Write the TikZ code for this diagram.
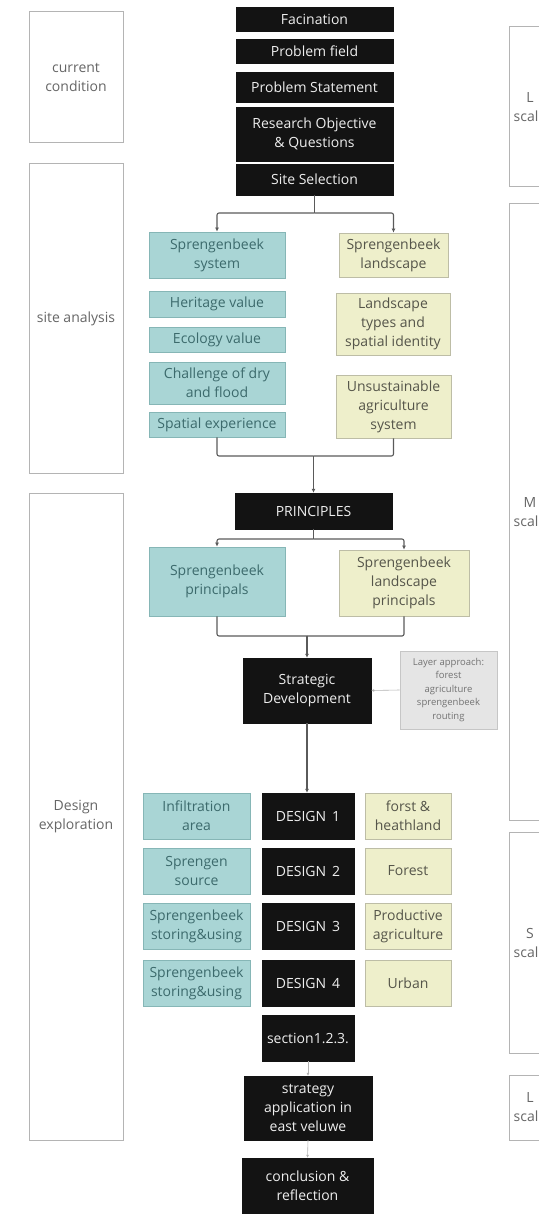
\documentclass[tikz,border=0pt]{standalone}
\usepackage{fontspec}
\setmainfont{Open Sans}
\usetikzlibrary{arrows.meta}
\definecolor{tealfill}{HTML}{A9D5D5}
\definecolor{tealline}{HTML}{86B6B6}
\definecolor{tealtext}{HTML}{3C6A6C}
\definecolor{yelfill}{HTML}{EEEFCB}
\definecolor{yelline}{HTML}{BDBDA6}
\definecolor{yeltext}{HTML}{55554A}
\definecolor{blk}{HTML}{131313}
\definecolor{blktext}{HTML}{EEEEEE}
\definecolor{side}{HTML}{B4B4B4}
\definecolor{sidetext}{HTML}{666666}
\definecolor{conn}{HTML}{5A5A5A}
\tikzset{
  base/.style={inner sep=0pt, align=center, font=\fontsize{14}{19}\selectfont},
  blackbox/.style={base, fill=blk, draw=blk, text=blktext},
  tealbox/.style={base, fill=tealfill, draw=tealline, line width=0.8pt, text=tealtext},
  yelbox/.style={base, fill=yelfill, draw=yelline, line width=0.8pt, text=yeltext},
  sidebox/.style={base, draw=side, line width=1pt, fill=white, text=sidetext},
  graybox/.style={base, fill=gray!20, draw=gray!45, line width=0.8pt, text=gray!90!black,
     font=\fontsize{9.5}{13.5}\selectfont},
  wire/.style={draw=conn, line width=1.1pt, rounded corners=2pt},
  arr/.style={wire, -{Latex[length=4pt,width=4pt]}},
  thinarr/.style={draw=gray!60, line width=0.6pt, -{Latex[length=3pt,width=3pt]}},
}
\newcommand{\bx}[7]{% style, name, cx, cy, w, h, text
  \node[#1, minimum width=#5pt, minimum height=#6pt] (#2) at (#3,#4) {#7};}
\begin{document}
\begin{tikzpicture}[x=1pt,y=-1pt]
\useasboundingbox (0,0) rectangle (538,1214);
% left phase boxes
\bx{sidebox}{cur}{76}{77.5}{94}{131}{current\\condition}
\bx{sidebox}{sa}{76}{318.5}{94}{309}{site analysis}
\bx{sidebox}{de}{76}{816.5}{94}{647}{Design\\exploration}
% right scale boxes
\bx{sidebox}{rl1}{530}{107}{42}{160}{L\\scale}
\bx{sidebox}{rm}{530}{512}{42}{616}{M\\scale}
\bx{sidebox}{rs}{530}{942.5}{42}{221}{S\\scale}
\bx{sidebox}{rl2}{530}{1107.5}{42}{65}{L\\scale}
% top black stack
\bx{blackbox}{fac}{314.5}{19}{157}{24}{Facination}
\bx{blackbox}{pf}{314.5}{51}{157}{24}{Problem field}
\bx{blackbox}{ps}{314.5}{87}{157}{30}{Problem Statement}
\bx{blackbox}{ro}{314.5}{134}{157}{54}{Research Objective\\\& Questions}
\bx{blackbox}{ss}{314.5}{179.5}{157}{31}{Site Selection}
% site analysis
\bx{tealbox}{sys}{217}{255}{136}{46}{Sprengenbeek\\system}
\bx{tealbox}{her}{217}{304}{136}{26}{Heritage value}
\bx{tealbox}{eco}{217}{339.5}{136}{25}{Ecology value}
\bx{tealbox}{chal}{217}{383}{136}{42}{Challenge of dry\\and flood}
\bx{tealbox}{spat}{217}{424.5}{136}{25}{Spatial experience}
\bx{yelbox}{land}{393.5}{255}{109}{44}{Sprengenbeek\\landscape}
\bx{yelbox}{types}{393}{324}{114}{62}{Landscape\\types and\\spatial identity}
\bx{yelbox}{unsus}{393.5}{406.5}{115}{63}{Unsustainable\\agriculture\\system}
% principles
\bx{blackbox}{prin}{313.5}{511}{157}{36}{PRINCIPLES}
\bx{tealbox}{tp}{217}{581.5}{136}{69}{Sprengenbeek\\principals}
\bx{yelbox}{yp}{404}{583}{130}{66}{Sprengenbeek\\landscape\\principals}
\bx{blackbox}{strat}{307}{690.5}{128}{65}{Strategic\\Development}
\bx{graybox}{layer}{448.5}{690}{97}{78}{Layer approach:\\forest\\agriculture\\sprengenbeek\\routing}
% designs
\bx{tealbox}{t1}{196.5}{816}{107}{46}{Infiltration\\area}
\bx{tealbox}{t2}{196.5}{871}{107}{46}{Sprengen\\source}
\bx{tealbox}{t3}{196.5}{926}{107}{46}{Sprengenbeek\\storing\&using}
\bx{tealbox}{t4}{196.5}{983}{107}{46}{Sprengenbeek\\storing\&using}
\bx{blackbox}{d1}{308}{816}{92}{46}{DESIGN\, 1}
\bx{blackbox}{d2}{308}{871}{92}{46}{DESIGN\, 2}
\bx{blackbox}{d3}{308}{926}{92}{46}{DESIGN\, 3}
\bx{blackbox}{d4}{308}{983}{92}{46}{DESIGN\, 4}
\bx{yelbox}{y1}{408}{816}{86}{46}{forst \&\\heathland}
\bx{yelbox}{y2}{408}{871}{86}{46}{Forest}
\bx{yelbox}{y3}{408}{926}{86}{46}{Productive\\agriculture}
\bx{yelbox}{y4}{408}{983}{86}{46}{Urban}
\bx{blackbox}{sec}{308}{1038}{92}{46}{section1.2.3.}
\bx{blackbox}{sapp}{308}{1108}{128}{64}{strategy\\application in\\east veluwe}
\bx{blackbox}{conc}{307.5}{1186}{131}{56}{conclusion \&\\reflection}
% junctions
\coordinate (j0) at (314.5,213);
\coordinate (j1) at (313.5,456);
\coordinate (j2) at (313.5,539);
\coordinate (j3) at (307,636);
% connectors
\draw[wire] (ss.south) -- (j0);
\draw[arr] (j0) -| (sys.north);
\draw[arr] (j0) -| (land.north);
\draw[wire] (spat.south) |- (j1);
\draw[wire] (unsus.south) |- (j1);
\draw[arr] (j1) -- (prin.north);
\draw[wire] (prin.south) -- (j2);
\draw[arr] (j2) -| (tp.north);
\draw[arr] (j2) -| (yp.north);
\draw[wire] (tp.south) |- (j3);
\draw[wire] (yp.south) |- (j3);
\draw[arr] (j3) -- (strat.north);
\draw[thinarr] (layer.west) -- (strat.east);
\draw[arr] (strat.south) -- (strat.south |- d1.north);
\draw[thinarr] (sec.south) -- (sapp.north);
\draw[thinarr] (sapp.south) -- (conc.north);
\end{tikzpicture}
\end{document}
